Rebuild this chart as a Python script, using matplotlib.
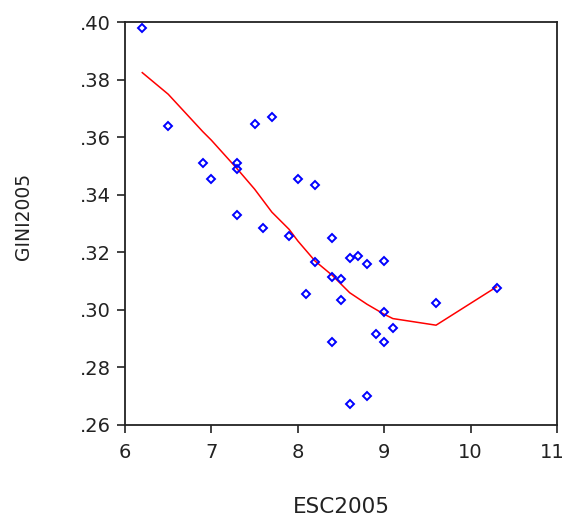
import matplotlib
matplotlib.use("Agg")
import matplotlib.pyplot as plt
import matplotlib.transforms as mtransforms

plt.rcParams['font.family'] = ['DejaVu Sans']

# scatter data: ESC2005 vs GINI2005
esc = [6.2, 6.5, 6.9, 7.0, 7.3, 7.3, 7.3, 7.5, 7.6, 7.7, 7.9, 8.0, 8.1, 8.2, 8.2,
       8.4, 8.4, 8.4, 8.5, 8.5, 8.6, 8.6, 8.7, 8.8, 8.8, 8.9, 9.0, 9.0, 9.0, 9.1,
       9.6, 10.3]
gini = [.398, .364, .351, .3456, .351, .349, .333, .3645, .3285, .367, .3258, .3454,
        .3054, .3434, .3168, .325, .3113, .2889, .3107, .3033, .318, .2674, .3187,
        .316, .2702, .2918, .317, .2994, .2889, .2938, .3025, .3078]

# fitted (nearest neighbour) line
fit_x = [6.2, 6.5, 6.9, 7.0, 7.3, 7.5, 7.7, 7.9, 8.0, 8.2, 8.4, 8.5, 8.6, 8.8,
         9.0, 9.1, 9.6, 10.3]
fit_y = [.3825, .375, .362, .359, .349, .342, .334, .328, .324, .317, .312, .309,
         .306, .302, .2985, .297, .2947, .308]

fig = plt.figure(figsize=(5.68, 5.17), dpi=100)
ax = fig.add_axes([125/568, 1-425/517, 432/568, 402.7/517])

ax.plot(fit_x, fit_y, color="#ff0000", lw=1.1, zorder=2)
ax.plot(esc, gini, ls="none", marker="D", markersize=4.4, mfc="none",
        mec="#0000ff", mew=1.4, zorder=3)

ax.set_xlim(6, 11)
ax.set_ylim(0.26, 0.40)
ax.set_xticks([6, 7, 8, 9, 10, 11])
yt = [.26, .28, .30, .32, .34, .36, .38, .40]
ax.set_yticks(yt)
ax.set_yticklabels([f"{v:.2f}"[1:] for v in yt])

for s in ax.spines.values():
    s.set_linewidth(1.3)
    s.set_color("#222222")
ax.tick_params(direction="out", length=6, width=1.2, labelsize=14,
               colors="#222222", pad=4)
ax.tick_params(axis="x", pad=7)

# keep the last x label inside the figure
last = ax.get_xticklabels()[-1]
last.set_transform(last.get_transform() +
                   mtransforms.ScaledTranslation(-5/100, 0, fig.dpi_scale_trans))

ax.set_xlabel("ESC2005", fontsize=15.5, color="#222222")
ax.xaxis.set_label_coords(0.5, -0.178)
ax.set_ylabel("GINI2005", fontsize=13.5, color="#222222")
ax.yaxis.set_label_coords(-0.213, 0.519)

fig.savefig("out.png", dpi=100)
